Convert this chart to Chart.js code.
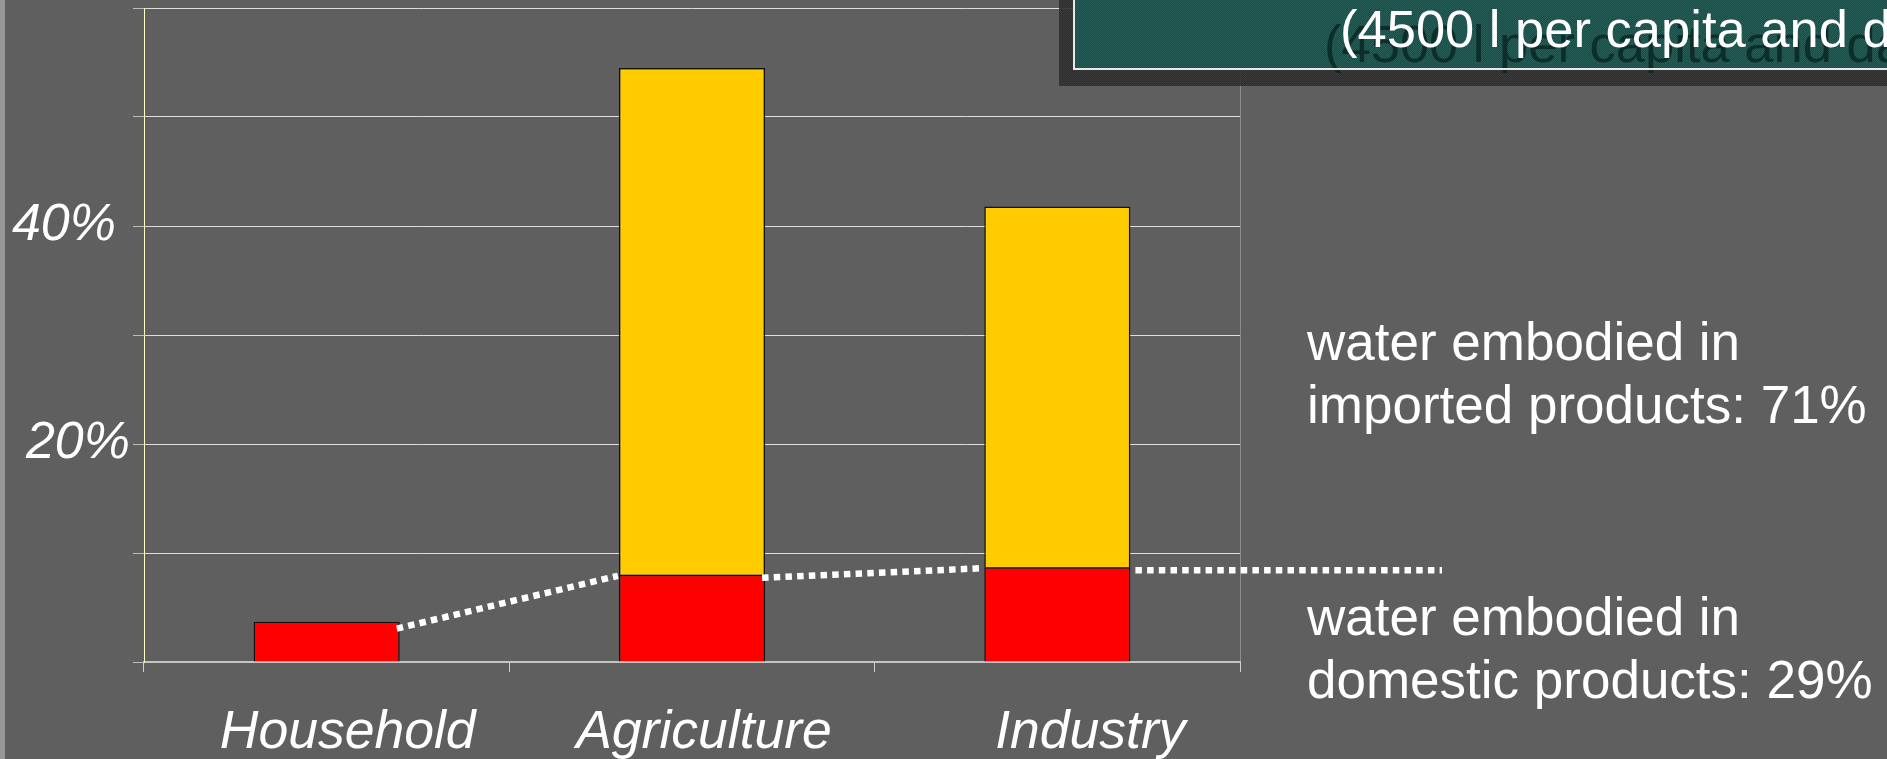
<!DOCTYPE html>
<html>
<head>
<meta charset="utf-8">
<title>Water embodied in consumption by sector</title>
<script src="https://cdn.jsdelivr.net/npm/chart.js@4/dist/chart.umd.min.js"></script>
<style>
  html, body { margin: 0; padding: 0; background: #5f5f5f; overflow: hidden; }
  #wrap { width: 1887px; height: 759px; }
</style>
</head>
<body>
<div id="wrap"><canvas id="chart" width="1887" height="759"></canvas></div>
<script>
// Sectors and their shares of the water footprint (% of total)
const categories = ['Household', 'Agriculture', 'Industry'];
const domesticShare = [3.7, 8.0, 8.7];   // water embodied in domestic products
const importedShare = [0.0, 46.5, 33.1]; // water embodied in imported products
const yTickValues = [20, 40];
const yTickLabels = ['20%', '40%'];
const importedNote = ['water embodied in', 'imported products: 71%'];
const domesticNote = ['water embodied in', 'domestic products: 29%'];
const titleLine = '(4500 l per capita and day)';

const FONT = '"Liberation Sans", Arial, Helvetica, sans-serif';

function checker(c, a, b) {
  const p = document.createElement('canvas');
  p.width = 2; p.height = 2;
  const g = p.getContext('2d');
  g.fillStyle = a; g.fillRect(0, 0, 2, 2);
  g.fillStyle = b; g.fillRect(0, 0, 1, 1); g.fillRect(1, 1, 1, 1);
  return c.createPattern(p, 'repeat');
}

const decorations = {
  id: 'decorations',
  beforeDraw(chart) {
    const c = chart.ctx;
    c.save();
    c.fillStyle = '#5f5f5f';
    c.fillRect(0, 0, chart.width, chart.height);
    c.fillStyle = '#979797';
    c.fillRect(0, 0, 5, chart.height);
    c.restore();
  },
  afterDatasetsDraw(chart) {
    // dotted connector along the tops of the domestic segments
    const c = chart.ctx;
    const y = chart.scales.y;
    const bars = chart.getDatasetMeta(0).data;
    c.save();
    c.strokeStyle = '#ffffff';
    c.lineWidth = 6.5;
    c.setLineDash([6.5, 5.2]);
    for (let i = 0; i < bars.length - 1; i++) {
      const x0 = bars[i].x + bars[i].width / 2 - 3;
      const x1 = bars[i + 1].x - bars[i + 1].width / 2 - 1;
      const y0 = y.getPixelForValue(domesticShare[i]) + (i === 0 ? 7 : 3);
      const y1 = y.getPixelForValue(domesticShare[i + 1]) + 1;
      c.beginPath(); c.moveTo(x0, y0); c.lineTo(x1, y1); c.stroke();
    }
    const last = bars.length - 1;
    const yl = y.getPixelForValue(domesticShare[last]) + 3;
    c.beginPath();
    c.moveTo(bars[last].x + bars[last].width / 2 + 5, yl);
    c.lineTo(1442, yl);
    c.stroke();
    c.restore();
  },
  afterDraw(chart) {
    const c = chart.ctx;
    const y = chart.scales.y;
    const bars = chart.getDatasetMeta(0).data;
    c.save();
    c.fillStyle = '#ffffff';

    // value axis labels
    c.font = 'italic 52px ' + FONT;
    c.textAlign = 'right';
    c.textBaseline = 'alphabetic';
    const yLabelRight = { 20: 130, 40: 116 };
    yTickValues.forEach((v, i) => {
      c.fillText(yTickLabels[i], yLabelRight[v], y.getPixelForValue(v) + 14);
    });

    // category labels
    c.font = 'italic 53.5px ' + FONT;
    c.textAlign = 'center';
    const nudge = [21, 12, 33];
    categories.forEach((name, i) => {
      c.fillText(name, bars[i].x + nudge[i], 748);
    });

    // side notes
    c.font = '53px ' + FONT;
    c.textAlign = 'left';
    c.fillText(importedNote[0], 1307, 360);
    c.fillText(importedNote[1], 1307, 423);
    c.fillText(domesticNote[0], 1307, 635);
    c.fillText(domesticNote[1], 1307, 698);

    // title panel in the top right corner
    c.globalAlpha = 0.9;
    c.fillStyle = checker(c, '#2a2a2a', '#373737');
    c.fillRect(1059, 0, chart.width - 1059, 86);
    c.fillStyle = checker(c, '#1a4f4a', '#27625c');
    c.fillRect(1074, 0, chart.width - 1074, 69);
    c.globalAlpha = 1;
    c.font = '52.5px ' + FONT;
    c.fillStyle = 'rgba(8, 36, 33, 0.8)';
    c.fillText(titleLine, 1324, 62);
    c.strokeStyle = '#e8e8e8';
    c.lineWidth = 2;
    c.beginPath();
    c.moveTo(1074, 0); c.lineTo(1074, 69); c.lineTo(chart.width, 69);
    c.stroke();
    c.fillStyle = '#ffffff';
    c.fillText(titleLine, 1340, 47);
    c.restore();
  }
};

new Chart(document.getElementById('chart'), {
  type: 'bar',
  data: {
    labels: categories,
    datasets: [
      {
        label: 'domestic',
        data: domesticShare,
        backgroundColor: '#ff0000',
        borderColor: '#111111',
        borderWidth: 1.5,
        barPercentage: 0.4,
        categoryPercentage: 1.0
      },
      {
        label: 'imported',
        data: importedShare,
        backgroundColor: '#ffcc00',
        borderColor: '#111111',
        borderWidth: 1.5,
        barPercentage: 0.4,
        categoryPercentage: 1.0
      }
    ]
  },
  options: {
    responsive: false,
    devicePixelRatio: 1,
    animation: false,
    events: [],
    layout: { padding: { left: 0, top: 8, right: 647, bottom: 0 } },
    plugins: { legend: { display: false }, tooltip: { enabled: false } },
    scales: {
      x: {
        stacked: true,
        afterFit(scale) { scale.height = 97; },
        ticks: { display: false },
        grid: {
          offset: true,
          drawOnChartArea: true,
          color: (ctx) => (ctx.type === 'tick' ? 'rgba(0,0,0,0)' : '#8c8c8c'),
          tickColor: '#cfcfcf',
          tickLength: 10,
          lineWidth: 1
        },
        border: { display: true, color: '#c4c4c4', width: 2 }
      },
      y: {
        stacked: true,
        min: 0,
        max: 60,
        afterFit(scale) { scale.width = 144; },
        ticks: { display: false, stepSize: 10 },
        grid: {
          color: '#dedede',
          tickColor: '#bdbdb0',
          tickLength: 11,
          lineWidth: 1
        },
        border: { display: true, color: '#ffffc4', width: 1 }
      }
    }
  },
  plugins: [decorations]
});
</script>
</body>
</html>
